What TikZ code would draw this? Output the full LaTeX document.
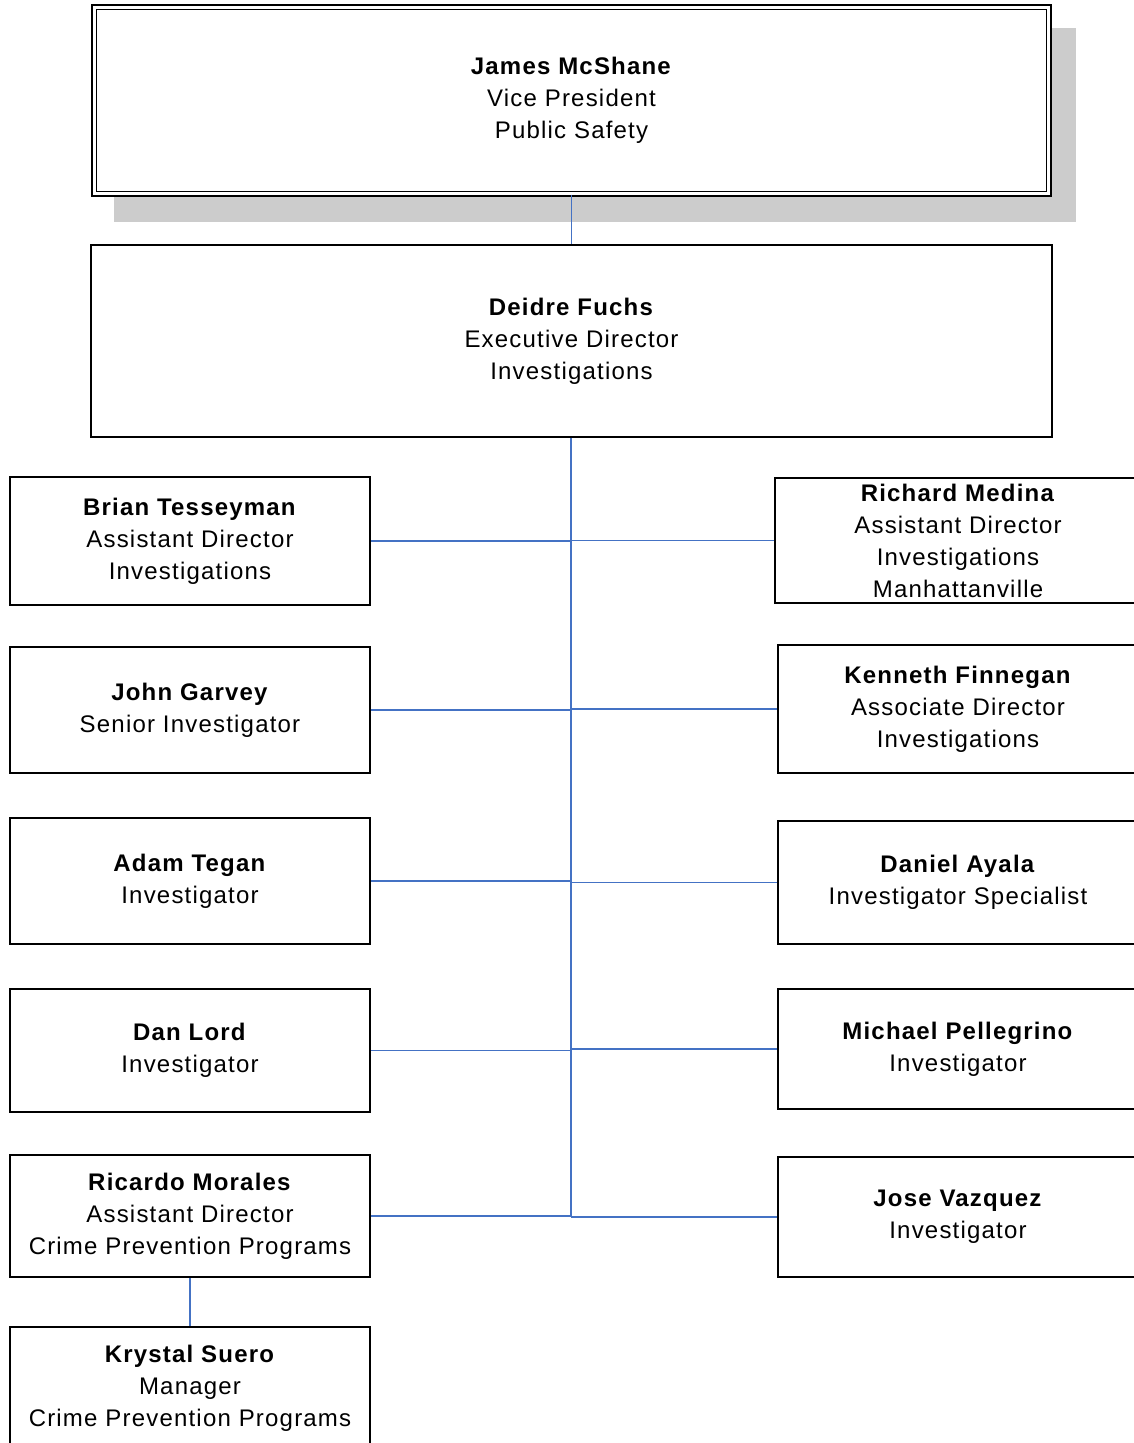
\documentclass[tikz,border=0pt]{standalone}
\usepackage{fontspec}
\setmainfont{Liberation Sans}[LetterSpace=5]
\usepackage{xcolor}
\usepackage{tikz}
\definecolor{linkblue}{HTML}{4472C4}
\definecolor{shadowgray}{HTML}{CCCCCC}

\begin{document}
\begin{tikzpicture}[x=0.75pt,y=-0.75pt]
  \tikzstyle{person}=[draw,line width=1.2pt,fill=white,align=center,inner sep=0pt,
                      font={\fontsize{18}{24}\selectfont}]
  \tikzstyle{side}=[person,minimum width=270pt]
  \tikzstyle{link}=[draw=linkblue,line width=1.4pt]
  \useasboundingbox (0,0) rectangle (1133,1443);
  \fill[shadowgray] (114,28) rectangle (1076,222);
  \node[person,double=white,double distance=2.2pt,line width=1.1pt,
        minimum width=716pt,minimum height=140pt] (vp) at (571.5,100.5)
        {\textbf{James McShane}\\Vice President\\Public Safety};
  \node[person,minimum width=721pt,minimum height=144pt] (exec) at (571.5,341)
        {\textbf{Deidre Fuchs}\\Executive Director\\Investigations};
  \node[side,minimum height=96pt] (tesseyman) at (190,541)
        {\textbf{Brian Tesseyman}\\Assistant Director\\Investigations};
  \node[side,minimum height=94.5pt] (garvey) at (190,710)
        {\textbf{John Garvey}\\Senior Investigator};
  \node[side,minimum height=94.5pt] (tegan) at (190,881)
        {\textbf{Adam Tegan}\\Investigator};
  \node[side,minimum height=92pt] (lord) at (190,1050.5)
        {\textbf{Dan Lord}\\Investigator};
  \node[side,minimum height=91.5pt] (morales) at (190,1216)
        {\textbf{Ricardo Morales}\\Assistant Director\\Crime Prevention Programs};
  \node[side,minimum height=91.5pt] (suero) at (190,1388)
        {\textbf{Krystal Suero}\\Manager\\Crime Prevention Programs};
  \node[side,minimum width=274.5pt,minimum height=94pt] (medina) at (958,540.5)
        {\textbf{Richard Medina}\\Assistant Director\\Investigations\\Manhattanville};
  \node[side,minimum height=96pt] (finnegan) at (958,709)
        {\textbf{Kenneth Finnegan}\\Associate Director\\Investigations};
  \node[side,minimum height=92pt] (ayala) at (958,882.5)
        {\textbf{Daniel Ayala}\\Investigator Specialist};
  \node[side,minimum height=90pt] (pellegrino) at (958,1049)
        {\textbf{Michael Pellegrino}\\Investigator};
  \node[side,minimum height=90pt] (vazquez) at (958,1217)
        {\textbf{Jose Vazquez}\\Investigator};
  \coordinate (trunk) at (571,1216);
  \draw[link] (vp.south) -- (exec.north);
  \draw[link] (exec.south -| trunk) -- (trunk);
  \draw[link] (tesseyman.east) -- (tesseyman.east -| trunk);
  \draw[link] (garvey.east) -- (garvey.east -| trunk);
  \draw[link] (tegan.east) -- (tegan.east -| trunk);
  \draw[link] (lord.east) -- (lord.east -| trunk);
  \draw[link] (morales.east) -- (trunk);
  \draw[link] (medina.west) -- (medina.west -| trunk);
  \draw[link] (finnegan.west) -- (finnegan.west -| trunk);
  \draw[link] (ayala.west) -- (ayala.west -| trunk);
  \draw[link] (pellegrino.west) -- (pellegrino.west -| trunk);
  \draw[link] (vazquez.west) -- (vazquez.west -| trunk);
  \draw[link] (morales.south) -- (suero.north);
\end{tikzpicture}
\end{document}
